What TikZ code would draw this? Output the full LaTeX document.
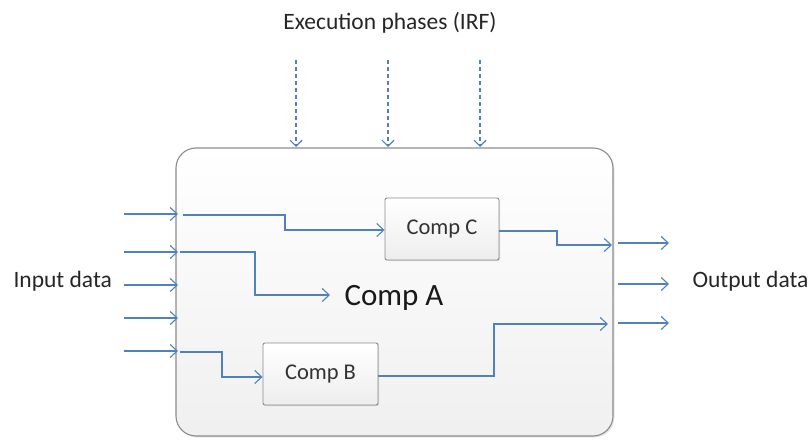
\documentclass[tikz,border=0pt]{standalone}
\usepackage{fontspec}
\setmainfont{Carlito}
\usetikzlibrary{arrows.meta,shadows}
\definecolor{flow}{RGB}{79,129,189}
\definecolor{frame}{RGB}{140,140,140}
\tikzset{
  flowline/.style={draw=flow,line width=1.1pt,-{Straight Barb[length=7pt,width=13pt,line width=1.1pt]}},
  phase/.style={draw=flow,line width=1.1pt,dash pattern=on 4pt off 3pt,-{Straight Barb[length=6pt,width=12pt,line width=1.1pt]}},
  compbox/.style={draw=frame,line width=0.9pt,rounded corners=2pt,top color=white,bottom color=gray!14,
    drop shadow={shadow xshift=1pt,shadow yshift=-1pt,opacity=0.25},font=\fontsize{22.5}{26}\selectfont,text=black!80},
  label/.style={font=\fontsize{23.5}{28}\selectfont,text=black!85}
}
\begin{document}
\begin{tikzpicture}[x=1pt,y=-1pt]
\useasboundingbox (0,0) rectangle (809,441);
% outer component
\path[draw=frame,line width=1.1pt,rounded corners=20pt,top color=white,bottom color=gray!12,
  drop shadow={shadow xshift=1.5pt,shadow yshift=-1.5pt,opacity=0.2}]
  (176,148) rectangle (613,436);
\node[font=\fontsize{31}{36}\selectfont,text=black!90] (compA) at (394,298) {Comp A};
% inner components
\node[compbox,minimum width=114pt,minimum height=62pt] (compC) at (442,229) {Comp C};
\node[compbox,minimum width=115pt,minimum height=62pt] (compB) at (320.5,374) {Comp B};
% labels
\node[label] (exec) at (390,23) {Execution phases (IRF)};
\node[label,anchor=west] (inlab) at (10,281) {Input data};
\node[label,anchor=west] (outlab) at (689,281) {Output data};
% execution phases
\foreach \x/\n in {296/p1,388/p2,480/p3}{
  \coordinate (\n s) at (\x,60);
  \coordinate (\n e) at (\x,147);
  \draw[phase] (\n s) -- (\n e);
}
% input data
\foreach \y/\n in {214/i1,252/i2,285/i3,318/i4,351/i5}{
  \coordinate (\n s) at (124,\y);
  \coordinate (\n e) at (178,\y);
  \draw[flowline] (\n s) -- (\n e);
}
\coordinate (r1) at (183,215);
\coordinate (r2) at (180,252);
\coordinate (r5) at (180,352);
\draw[flowline] (r1) -- (285,215) -- (285,230) -- (compC.west |- 0,230);
\coordinate (aIn) at (330,295);
\draw[flowline] (r2) -- (255,252) -- (255,295) -- (aIn);
\draw[flowline] (r5) -- (222,352) -- (222,377) -- (compB.west |- 0,377);
% outputs of inner components
\coordinate (oC) at (612,245);
\coordinate (oB) at (608,324);
\draw[flowline] (compC.east |- 0,231) -- (557,231) -- (557,245) -- (oC);
\draw[flowline] (compB.east |- 0,376) -- (494,376) -- (494,324) -- (oB);
% output data
\foreach \y/\n in {243/o1,284/o2,323/o3}{
  \coordinate (\n s) at (618,\y);
  \coordinate (\n e) at (669,\y);
  \draw[flowline] (\n s) -- (\n e);
}
\end{tikzpicture}
\end{document}
